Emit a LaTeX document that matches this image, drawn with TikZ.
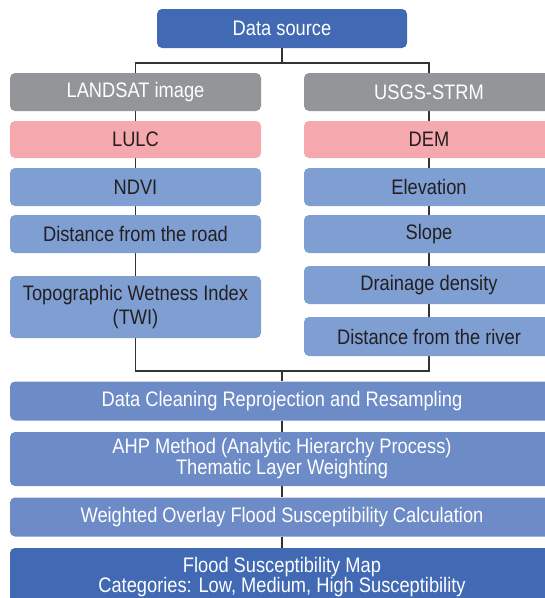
\documentclass[tikz,border=0pt]{standalone}
\usepackage{fontspec}
\setmainfont{Liberation Sans}[FakeStretch=0.87]
\usetikzlibrary{backgrounds}
\definecolor{dsblue}{HTML}{4169B4}
\definecolor{grayb}{HTML}{939598}
\definecolor{pinkb}{HTML}{F5A9AE}
\definecolor{lightb}{HTML}{7F9FD3}
\definecolor{midb}{HTML}{6D8BC7}
\definecolor{darktxt}{HTML}{231F20}
\definecolor{linec}{HTML}{333333}
\tikzset{
  box/.style={rounded corners=5pt, inner sep=0pt, align=center, font=\fontsize{21}{24}\selectfont},
  darkbox/.style={box, fill=dsblue, text=white},
  graybox/.style={box, fill=grayb, text=white},
  pinkbox/.style={box, fill=pinkb, text=darktxt},
  lightbox/.style={box, fill=lightb, text=darktxt},
  midbox/.style={box, fill=midb, text=white},
  conn/.style={draw=linec, line width=1.3pt},
}
\begin{document}
\begin{tikzpicture}[x=1pt,y=-1pt]
\useasboundingbox (0,0) rectangle (545,598);
\clip (0,0) rectangle (545,598);
% top
\node[darkbox, minimum width=250pt, minimum height=39pt] (ds) at (282,28.5) {Data source};
% left column
\node[graybox, minimum width=251pt, minimum height=38pt] (landsat) at (135.5,92) {LANDSAT image};
\node[pinkbox, minimum width=251pt, minimum height=37pt] (lulc) at (135.5,139.5) {LULC};
\node[lightbox, minimum width=251pt, minimum height=38pt] (ndvi) at (135.5,187) {NDVI};
\node[lightbox, minimum width=251pt, minimum height=38pt] (road) at (135.5,234) {Distance from the road};
\node[lightbox, minimum width=251pt, minimum height=62pt] (twi) at (135.5,307) {Topographic Wetness Index\\(TWI)};
% right column
\node[graybox, minimum width=250pt, minimum height=38pt] (usgs) at (429,92) {USGS-STRM};
\node[pinkbox, minimum width=250pt, minimum height=37pt] (dem) at (429,139.5) {DEM};
\node[lightbox, minimum width=250pt, minimum height=38pt] (elev) at (429,187) {Elevation};
\node[lightbox, minimum width=250pt, minimum height=38pt] (slope) at (429,234) {Slope};
\node[lightbox, minimum width=250pt, minimum height=38pt] (drain) at (429,285) {Drainage density};
\node[lightbox, minimum width=250pt, minimum height=39pt] (river) at (429,336.5) {Distance from the river};
% bottom
\node[midbox, minimum width=544pt, minimum height=39pt] (clean) at (282,401) {Data Cleaning Reprojection and Resampling};
\node[midbox, minimum width=544pt, minimum height=54pt, font=\fontsize{21}{21}\selectfont] (ahp) at (282,459) {AHP Method (Analytic Hierarchy Process)\\Thematic Layer Weighting};
\node[midbox, minimum width=544pt, minimum height=39pt] (weighted) at (282,517) {Weighted Overlay Flood Susceptibility Calculation};
\node[darkbox, minimum width=544pt, minimum height=58pt, font=\fontsize{21}{20}\selectfont] (flood) at (282,577) {Flood Susceptibility Map\\Categories: Low, Medium, High Susceptibility};
% junctions
\coordinate (tj) at (282,63);
\coordinate (bj) at (282,371);
\begin{scope}[on background layer]
\draw[conn] (ds) -- (tj);
\draw[conn] (landsat.north) |- (tj) -| (usgs.north);
\draw[conn] (landsat) -- (lulc) -- (ndvi) -- (road) -- (twi);
\draw[conn] (usgs) -- (dem) -- (elev) -- (slope) -- (drain) -- (river);
\draw[conn] (twi.south) |- (bj) -| (river.south);
\draw[conn] (bj) -- (clean);
\draw[conn] (clean) -- (ahp) -- (weighted) -- (flood);
\end{scope}
\end{tikzpicture}
\end{document}
